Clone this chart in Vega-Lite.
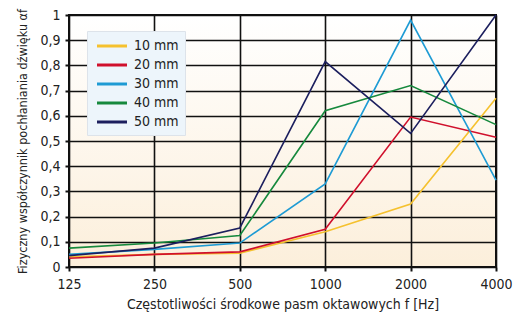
{
  "$schema": "https://vega.github.io/schema/vega-lite/v6.json",
  "width": 427,
  "height": 252,
  "autosize": "none",
  "padding": {"left": 69, "top": 15, "right": 20, "bottom": 52},
  "background": "#ffffff",
  "config": {
    "locale": {"number": {"decimal": ",", "thousands": "", "grouping": [3], "currency": ["", ""]}},
    "font": "DejaVu Sans Condensed, Liberation Sans, sans-serif",
    "view": {
      "stroke": "#111111",
      "strokeWidth": 2,
      "fill": {"gradient": "linear", "x1": 0, "y1": 0, "x2": 0, "y2": 1, "stops": [{"offset": 0, "color": "#ffffff"}, {"offset": 1, "color": "#fcefdb"}]}
    }
  },
  "data": {
    "values": [
      {"f": 125, "a": 0.040, "s": "10 mm"}, {"f": 250, "a": 0.050, "s": "10 mm"}, {"f": 500, "a": 0.055, "s": "10 mm"}, {"f": 1000, "a": 0.140, "s": "10 mm"}, {"f": 2000, "a": 0.250, "s": "10 mm"}, {"f": 4000, "a": 0.670, "s": "10 mm"},
      {"f": 125, "a": 0.035, "s": "20 mm"}, {"f": 250, "a": 0.050, "s": "20 mm"}, {"f": 500, "a": 0.060, "s": "20 mm"}, {"f": 1000, "a": 0.150, "s": "20 mm"}, {"f": 2000, "a": 0.595, "s": "20 mm"}, {"f": 4000, "a": 0.515, "s": "20 mm"},
      {"f": 125, "a": 0.050, "s": "30 mm"}, {"f": 250, "a": 0.070, "s": "30 mm"}, {"f": 500, "a": 0.095, "s": "30 mm"}, {"f": 1000, "a": 0.330, "s": "30 mm"}, {"f": 2000, "a": 0.980, "s": "30 mm"}, {"f": 4000, "a": 0.345, "s": "30 mm"},
      {"f": 125, "a": 0.075, "s": "40 mm"}, {"f": 250, "a": 0.095, "s": "40 mm"}, {"f": 500, "a": 0.125, "s": "40 mm"}, {"f": 1000, "a": 0.620, "s": "40 mm"}, {"f": 2000, "a": 0.720, "s": "40 mm"}, {"f": 4000, "a": 0.565, "s": "40 mm"},
      {"f": 125, "a": 0.045, "s": "50 mm"}, {"f": 250, "a": 0.075, "s": "50 mm"}, {"f": 500, "a": 0.155, "s": "50 mm"}, {"f": 1000, "a": 0.815, "s": "50 mm"}, {"f": 2000, "a": 0.530, "s": "50 mm"}, {"f": 4000, "a": 1.000, "s": "50 mm"}
    ]
  },
  "mark": {"type": "line", "strokeWidth": 1.6},
  "encoding": {
    "x": {
      "field": "f", "type": "ordinal", "sort": "ascending",
      "scale": {"type": "point", "padding": 0},
      "axis": {
        "title": "Częstotliwości środkowe pasm oktawowych f [Hz]",
        "titleFontSize": 14, "titleFontWeight": "normal", "titleColor": "#222222", "titlePadding": 6,
        "labelAngle": 0, "labelFontSize": 14, "labelColor": "#222222", "labelPadding": 6,
        "grid": true, "gridColor": "#111111", "gridWidth": 1.6,
        "domain": false, "ticks": true, "tickColor": "#111111", "tickWidth": 2, "tickSize": 4
      }
    },
    "y": {
      "field": "a", "type": "quantitative",
      "scale": {"domain": [0, 1], "nice": false},
      "axis": {
        "title": "Fizyczny współczynnik pochłaniania dźwięku αf",
        "values": [0, 0.1, 0.2, 0.3, 0.4, 0.5, 0.6, 0.7, 0.8, 0.9, 1],
        "format": ".1~f",
        "titleFontSize": 12.5, "titleFontWeight": "normal", "titleColor": "#222222", "titlePadding": 10,
        "labelFontSize": 14, "labelColor": "#222222", "labelPadding": 5,
        "grid": true, "gridColor": "#111111", "gridWidth": 1.6,
        "domain": false, "ticks": true, "tickColor": "#111111", "tickWidth": 2, "tickSize": 4
      }
    },
    "color": {
      "field": "s", "type": "nominal",
      "scale": {"domain": ["10 mm", "20 mm", "30 mm", "40 mm", "50 mm"], "range": ["#f5c12e", "#d0102c", "#1e9bd4", "#16893d", "#1c1f5e"]},
      "legend": {
        "title": null, "orient": "none", "legendX": 18, "legendY": 16,
        "fillColor": "#edf5fb", "strokeColor": "#dde3ea", "padding": 6, "rowPadding": 3,
        "symbolType": "M-2,0H2", "symbolSize": 225, "symbolStrokeWidth": 3, "symbolOffset": 10,
        "labelFontSize": 14, "labelColor": "#222222", "labelOffset": 13
      }
    }
  }
}
